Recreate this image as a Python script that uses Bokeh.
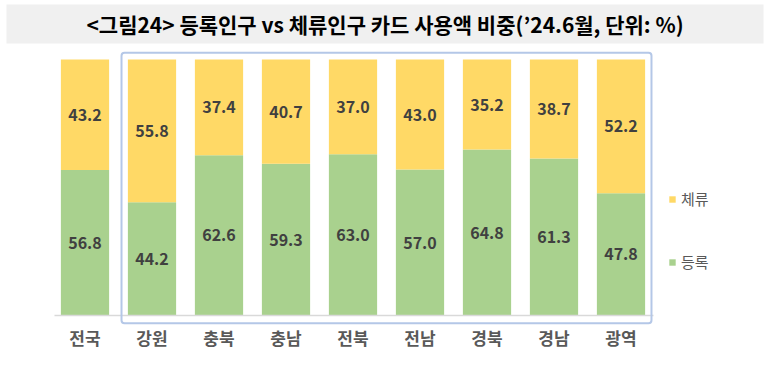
from bokeh.plotting import figure
from bokeh.models import Range1d, FixedTicker, Legend, LegendItem, ColumnDataSource
from bokeh.core.properties import value
from bokeh.embed import file_html
from bokeh.resources import INLINE

# ---- data ----
categories = ["전국", "강원", "충북", "충남", "전북", "전남", "경북", "경남", "광역"]
registered = [56.8, 44.2, 62.6, 59.3, 63.0, 57.0, 64.8, 61.3, 47.8]   # 등록
staying = [43.2, 55.8, 37.4, 40.7, 37.0, 43.0, 35.2, 38.7, 52.2]      # 체류
series_names = ["등록", "체류"]
title_text = "<그림24> 등록인구 vs 체류인구 카드 사용액 비중(\u201924.6월, 단위: %)"

FONT = "Noto Sans CJK KR"
YELLOW = "#FFD966"
GREEN = "#A9D18E"

# ---- layout geometry (screen pixels) ----
W, H = 771, 365
FRAME_BOTTOM = 325          # bottom of drawing frame
X_LEFT = 51                 # left edge of first category slot
SLOT = 67                   # pixels per category
BASE = 315                  # pixel row of 0 %
PX_PER_PCT = 2.56

def xu(px):
    return (px - X_LEFT) / SLOT

def yu(py):
    return (BASE - py) / PX_PER_PCT

n = len(categories)
pos = [i + 0.5 for i in range(n)]

src = ColumnDataSource(dict(x=pos, cat=categories, 등록=registered, 체류=staying,
                            reg_mid=[r / 2 for r in registered],
                            stay_mid=[r + s / 2 for r, s in zip(registered, staying)],
                            reg_lbl=[f"{r:.1f}" for r in registered],
                            stay_lbl=[f"{s:.1f}" for s in staying]))

p = figure(width=W, height=H, x_range=Range1d(xu(0), xu(W)), y_range=Range1d(yu(FRAME_BOTTOM), yu(0)),
           output_backend="svg", toolbar_location=None, y_axis_location=None,
           min_border_left=0, min_border_right=0, min_border_top=0, min_border_bottom=H - FRAME_BOTTOM)
p.grid.visible = False
p.outline_line_color = None
p.background_fill_color = "#FFFFFF"
p.border_fill_color = "#FFFFFF"

# title band
p.quad(left=[xu(6)], right=[xu(763)], bottom=[yu(43)], top=[yu(4)], fill_color="#F0F0F0", line_color=None)
p.text(x=[xu(384.5)], y=[yu(23.5)], text=[title_text], text_font=value(FONT), text_font_style="bold",
       text_font_size="21px", text_align="center", text_baseline="middle", text_color="#000000")

# bars
rs = p.vbar_stack(series_names, x="x", width=0.72, color=[GREEN, YELLOW], line_color=None, source=src)

for ycol, tcol in (("reg_mid", "reg_lbl"), ("stay_mid", "stay_lbl")):
    p.text(x="x", y=ycol, text=tcol, source=src, text_font=value(FONT), text_font_style="bold",
           text_font_size="16px", text_align="center", text_baseline="middle", text_color="#404040")

# baseline
p.segment(x0=[xu(54)], x1=[xu(653)], y0=[0], y1=[0], line_color="#D9D9D9", line_width=1.5)

# highlight frame around the regional bars
first = categories.index("강원")
p.quad(left=[first + 0.045], right=[n - 0.045], bottom=[yu(322.7)], top=[yu(52.3)],
       fill_color=None, line_color="#B4C7E7", line_width=2, border_radius=3)

ax = p.xaxis[0]
ax.ticker = FixedTicker(ticks=pos)
ax.major_label_overrides = {x: c for x, c in zip(pos, categories)}
ax.axis_line_color = None
ax.major_tick_line_color = None
ax.minor_tick_line_color = None
ax.major_label_standoff = -7
ax.major_label_text_font = FONT
ax.major_label_text_font_style = "bold"
ax.major_label_text_font_size = "17px"
ax.major_label_text_color = "#595959"

legend = Legend(items=[LegendItem(label="체류", renderers=[rs[1]]),
                       LegendItem(label="등록", renderers=[rs[0]])],
                location=(668, FRAME_BOTTOM - 272), orientation="vertical", glyph_width=8, glyph_height=8,
                label_height=20, spacing=42, padding=0, margin=0, label_standoff=5,
                border_line_color=None, background_fill_alpha=0,
                label_text_font=FONT, label_text_font_size="15px", label_text_color="#595959")
p.add_layout(legend, "center")

open("out.html", "w").write(file_html(p, INLINE))
